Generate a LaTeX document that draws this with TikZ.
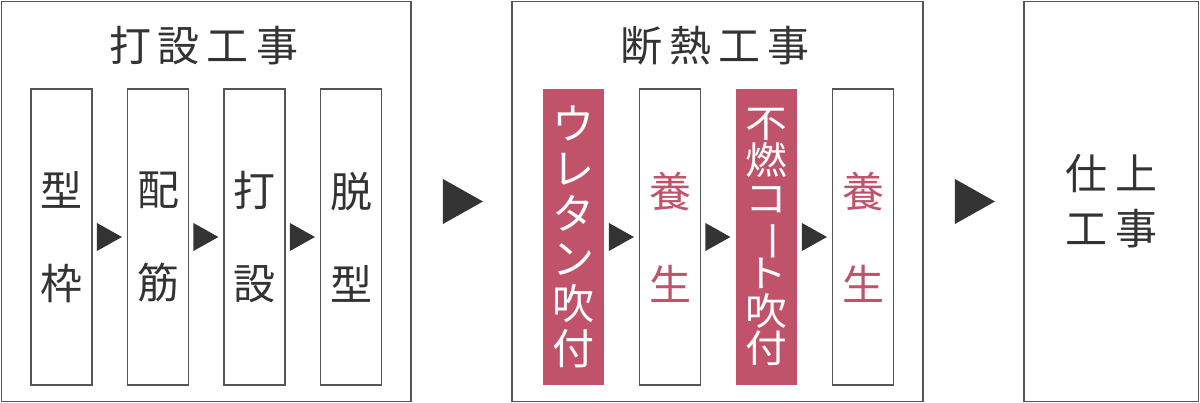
\documentclass[tikz,border=0pt]{standalone}
\usepackage{fontspec}
\newfontfamily\jp{Noto Sans CJK JP}
\newfontfamily\jpwide[FakeStretch=1.1]{Noto Sans CJK JP}
\usetikzlibrary{positioning,shapes.geometric}

\definecolor{pinkc}{HTML}{C0526A}
\definecolor{darkc}{HTML}{333333}
\definecolor{framec}{HTML}{555555}
\lineskiplimit=-100pt

\tikzset{
  phasebox/.style={draw=framec, line width=1.5pt, minimum height=400pt, inner sep=0pt, text=darkc},
  stepbox/.style={draw=framec, line width=1.5pt, minimum width=61pt, minimum height=296pt,
    inner sep=0pt, align=center, text=darkc},
  sprayed/.style={stepbox, draw=none, fill=pinkc, text=white},
  curing/.style={stepbox, text=pinkc},
  tri/.style={isosceles triangle, isosceles triangle stretches, fill=darkc, inner sep=0pt,
    minimum width=28pt, minimum height=25pt},
  bigtri/.style={tri, minimum width=45pt, minimum height=40pt},
  jfont/.style={font=\jp\fontsize{42}{#1}\selectfont}
}

\begin{document}
\begin{tikzpicture}[x=1pt, y=-1pt]
  \useasboundingbox (0,0) rectangle (1200,403);

  % Phase frames
  \node[phasebox, minimum width=409.5pt] (uchi) at (206.25,201.5) {};
  \node[phasebox, minimum width=411pt] (dan) at (717.5,201.5) {};
  \node[phasebox, minimum width=174.5pt, align=center, jfont=55] (shiage) at (1111.25,201.5)
    {仕\kern8pt 上\\工\kern8pt 事\hspace{5pt}};

  % Titles
  \node[jfont=42, text=darkc] (uchiT) at (203.5,46) {打\kern7pt 設\kern7pt 工\kern7pt 事};
  \node[jfont=42, text=darkc] (danT) at (715,46) {断\kern7pt 熱\kern7pt 工\kern7pt 事};

  % Concrete work steps
  \node[stepbox, jfont=93] (kata) at (61.5,237) {型\\枠};
  \node[stepbox, jfont=93, right=34pt of kata] (haikin) {配\\筋};
  \node[stepbox, jfont=93, right=34pt of haikin] (dasetsu) {打\\設};
  \node[stepbox, jfont=93, right=34pt of dasetsu] (datsu) {脱\\型};
  \node[tri, right=4pt of kata] (a1) {};
  \node[tri, right=4pt of haikin] (a2) {};
  \node[tri, right=4pt of dasetsu] (a3) {};

  % Insulation work steps
  \node[sprayed, jfont=45] (uretan) at (573.5,237) {ウ\\レ\\タ\\ン\\吹\\付};
  \node[curing, jfont=93, right=34pt of uretan] (yojo1) {養\\生};
  \node[sprayed, font=\jpwide\fontsize{38}{37.6}\selectfont, right=34pt of yojo1] (funen)
    {不\\燃\\コ\\\rotatebox[origin=c]{-90}{ー}\\ト\\吹\\付};
  \node[curing, jfont=93, right=34pt of funen] (yojo2) {養\\生};
  \node[tri, right=4pt of uretan] (b1) {};
  \node[tri, right=4pt of yojo1] (b2) {};
  \node[tri, right=4pt of funen] (b3) {};

  % Between phases
  \node[bigtri, right=31pt of uchi] (p1) {};
  \node[bigtri, right=31pt of dan] (p2) {};
\end{tikzpicture}
\end{document}
